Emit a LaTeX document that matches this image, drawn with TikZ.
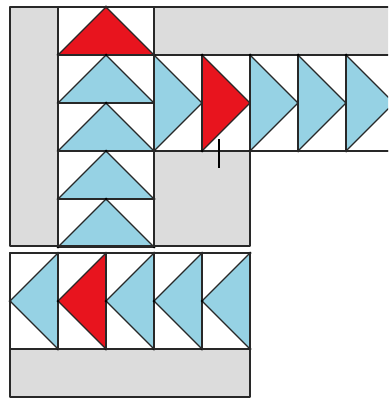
\documentclass[tikz,border=0pt]{standalone}
\definecolor{qgray}{RGB}{220,220,220}
\definecolor{qblue}{RGB}{150,210,228}
\definecolor{qred}{RGB}{232,20,30}
\definecolor{qline}{RGB}{40,40,40}
\tikzset{
  seam/.style={draw=qline, line width=1.4pt, line join=round},
  goose/.style={seam, fill=qblue},
  redgoose/.style={seam, fill=qred},
  pin/.style={fill=black},
}
\begin{document}
\begin{tikzpicture}[x=1pt,y=-1pt]
\useasboundingbox (0,0) rectangle (388,401);
\fill[white] (0,0) rectangle (388,401);
\clip (0,0) rectangle (388,401);
% upper block background
\fill[qgray] (10,7) rectangle (58,246);
\fill[qgray] (154,7) rectangle (400,55);
\fill[qgray] (154,151) rectangle (250,246);
% vertical column of geese (pointing up)
\foreach \i in {0,...,4}{
  \pgfmathsetmacro{\yy}{7+48*\i}
  \ifnum\i=0
    \draw[redgoose] (58,\yy+48) -- (106,\yy) -- (154,\yy+48) -- cycle;
  \else
    \draw[goose] (58,\yy+48) -- (106,\yy) -- (154,\yy+48) -- cycle;
  \fi
  \draw[seam] (58,\yy) rectangle (154,\yy+48);
  \fill (106,\yy) circle (1.5);
  \fill (58,\yy+48) circle (1.5);
  \fill (154,\yy+48) circle (1.5);
}
% horizontal row of geese (pointing right)
\foreach \j in {0,...,4}{
  \pgfmathsetmacro{\xx}{154+48*\j}
  \ifnum\j=1
    \draw[redgoose] (\xx,55) -- (\xx+48,103) -- (\xx,151) -- cycle;
  \else
    \draw[goose] (\xx,55) -- (\xx+48,103) -- (\xx,151) -- cycle;
  \fi
  \draw[seam] (\xx,55) rectangle (\xx+48,151);
  \fill (\xx+48,103) circle (1.5);
  \fill (\xx,55) circle (1.5);
  \fill (\xx,151) circle (1.5);
}
% upper block outline
\draw[seam] (400,7) -- (10,7) -- (10,246) -- (250,246) -- (250,151) -- (400,151);
\draw[seam] (154,7) -- (154,246);
% lower block
\fill[qgray] (10,349) rectangle (250,397);
\foreach \k in {0,...,4}{
  \pgfmathsetmacro{\xx}{10+48*\k}
  \ifnum\k=1
    \draw[redgoose] (\xx+48,253) -- (\xx,301) -- (\xx+48,349) -- cycle;
  \else
    \draw[goose] (\xx+48,253) -- (\xx,301) -- (\xx+48,349) -- cycle;
  \fi
  \draw[seam] (\xx,253) rectangle (\xx+48,349);
  \fill (\xx,301) circle (1.5);
  \fill (\xx+48,253) circle (1.5);
  \fill (\xx+48,349) circle (1.5);
}
\draw[seam] (10,253) rectangle (250,397);
% marker tick
\draw[line width=2.6pt, black] (219,139) -- (219,168);
\end{tikzpicture}
\end{document}
